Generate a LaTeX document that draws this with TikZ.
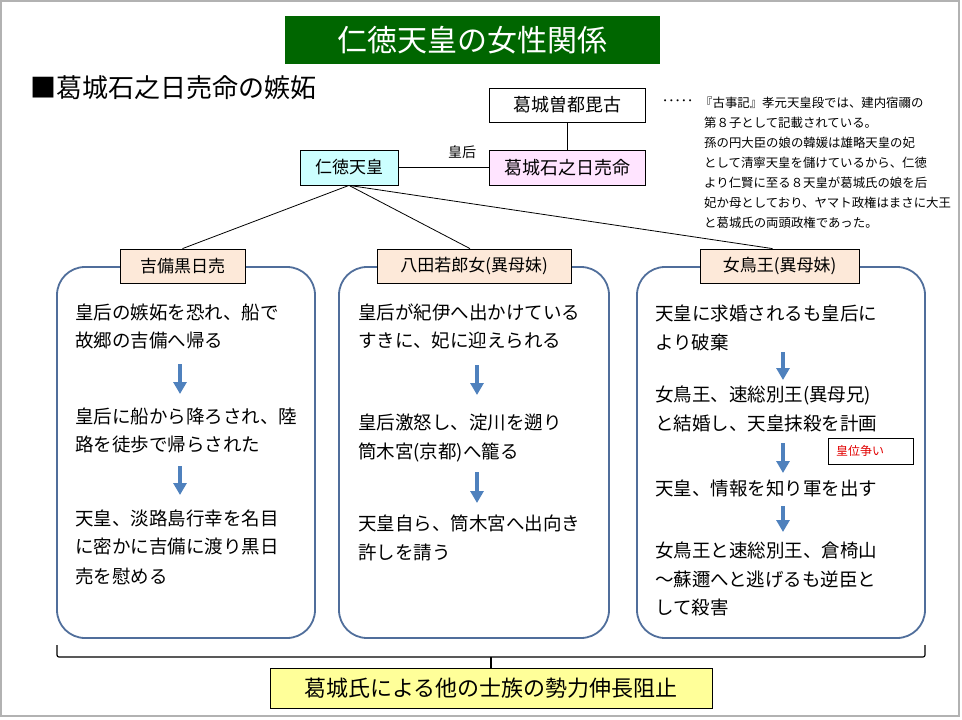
\documentclass[tikz,border=0pt]{standalone}
\usepackage{fontspec}
\setmainfont{Noto Sans CJK JP}
\usetikzlibrary{arrows.meta}
\definecolor{titlegreen}{RGB}{0,102,0}
\definecolor{nincyan}{RGB}{204,255,255}
\definecolor{iwapink}{RGB}{255,228,255}
\definecolor{labpeach}{RGB}{253,233,217}
\definecolor{goalyellow}{RGB}{255,255,153}
\definecolor{boxblue}{RGB}{80,110,155}
\definecolor{arrowblue}{RGB}{79,129,189}
\definecolor{warnred}{RGB}{225,0,0}
\tikzset{
  famebox/.style={draw=black, line width=0.8pt, fill=white, inner sep=0pt, font=\fontsize{18}{20}\selectfont},
  labbox/.style={draw=black, line width=0.8pt, fill=labpeach, inner sep=0pt, minimum height=34pt, font=\fontsize{17}{20}\selectfont},
  rbox/.style={draw=boxblue, line width=1.8pt, rounded corners=28pt, inner sep=0pt},
  bodytext/.style={anchor=west, inner sep=0pt, font=\fontsize{18.5}{22}\selectfont},
  notetext/.style={anchor=west, inner sep=0pt, font=\fontsize{12.4}{14}\selectfont},
  barrow/.style={draw=arrowblue, line width=3.6pt, -{Triangle[length=12pt,width=13pt]}},
  linkline/.style={draw=black, line width=0.8pt}
}
\begin{document}
\begin{tikzpicture}[x=1pt,y=-1pt]
\useasboundingbox (0,0) rectangle (962,720);
\draw[gray!60, line width=1.5pt] (1,1) rectangle (959,716);

% title and heading
\node[fill=titlegreen, minimum width=375pt, minimum height=48pt, inner sep=0pt, text=white, font=\fontsize{30}{32}\selectfont] (title) at (472.5,40) {仁徳天皇の女性関係};
\node[anchor=west, inner sep=0pt, font=\fontsize{26}{28}\selectfont] (head) at (30,88) {■葛城石之日売命の嫉妬};

% family boxes
\node[famebox, minimum width=156pt, minimum height=34pt] (sotsu) at (567,105) {葛城曽都毘古};
\node[famebox, fill=nincyan, minimum width=98pt, minimum height=35pt, font=\fontsize{17}{20}\selectfont] (nin) at (349,167.5) {仁徳天皇};
\node[famebox, fill=iwapink, minimum width=156pt, minimum height=35pt] (iwa) at (567,167.5) {葛城石之日売命};
\node[inner sep=0pt, font=\fontsize{14}{16}\selectfont] (kogo) at (462,152) {皇后};
\draw[linkline] (nin) -- (iwa);
\draw[linkline] (sotsu) -- (iwa);

% note
\node[notetext] (dots) at (662,103) {･････};
\node[notetext] (n1) at (700,103) {『古事記』孝元天皇段では、建内宿禰の};
\node[notetext] (n2) at (704,123) {第８子として記載されている。};
\node[notetext] (n3) at (704,143) {孫の円大臣の娘の韓媛は雄略天皇の妃};
\node[notetext] (n4) at (704,163) {として清寧天皇を儲けているから、仁徳};
\node[notetext] (n5) at (704,183) {より仁賢に至る８天皇が葛城氏の娘を后};
\node[notetext] (n6) at (704,203) {妃か母としており、ヤマト政権はまさに大王};
\node[notetext] (n7) at (704,223) {と葛城氏の両頭政権であった。};

% rounded boxes
\node[rbox, minimum width=258pt, minimum height=371pt] (b1) at (186,452.5) {};
\node[rbox, minimum width=270pt, minimum height=371pt] (b2) at (474,452.5) {};
\node[rbox, minimum width=288pt, minimum height=371pt] (b3) at (781,452.5) {};

% labels
\node[labbox, minimum width=125pt] (l1) at (182.5,266) {吉備黒日売};
\node[labbox, minimum width=194pt] (l2) at (474,266) {八田若郎女(異母妹)};
\node[labbox, minimum width=159pt] (l3) at (779.5,266) {女鳥王(異母妹)};
\draw[linkline] (nin.south) -- (l1.north);
\draw[linkline] (nin.south) -- ([xshift=-4pt]l2.north);
\draw[linkline] (nin.south) -- ([xshift=-7pt]l3.north);

% box 1 text
\node[bodytext] (a1) at (75,312) {皇后の嫉妬を恐れ、船で};
\node[bodytext] (a2) at (75,341) {故郷の吉備へ帰る};
\node[bodytext] (a3) at (75,416) {皇后に船から降ろされ、陸};
\node[bodytext] (a4) at (75,445) {路を徒歩で帰らされた};
\node[bodytext] (a5) at (75,518) {天皇、淡路島行幸を名目};
\node[bodytext] (a6) at (75,547) {に密かに吉備に渡り黒日};
\node[bodytext] (a7) at (75,576) {売を慰める};
\coordinate (p1s) at (180,364); \coordinate (p1e) at (180,394);
\coordinate (p2s) at (180,466); \coordinate (p2e) at (180,495);
\draw[barrow] (p1s) -- (p1e);
\draw[barrow] (p2s) -- (p2e);

% box 2 text
\node[bodytext] (c1) at (358,312) {皇后が紀伊へ出かけている};
\node[bodytext] (c2) at (358,340) {すきに、妃に迎えられる};
\node[bodytext] (c3) at (358,423) {皇后激怒し、淀川を遡り};
\node[bodytext] (c4) at (358,452) {筒木宮(京都)へ籠る};
\node[bodytext] (c5) at (358,523) {天皇自ら、筒木宮へ出向き};
\node[bodytext] (c6) at (358,552) {許しを請う};
\coordinate (q1s) at (477,365); \coordinate (q1e) at (477,395);
\coordinate (q2s) at (477,472); \coordinate (q2e) at (477,503);
\draw[barrow] (q1s) -- (q1e);
\draw[barrow] (q2s) -- (q2e);

% box 3 text
\node[bodytext] (d1) at (655,313) {天皇に求婚されるも皇后に};
\node[bodytext] (d2) at (655,342) {より破棄};
\node[bodytext] (d3) at (655,395) {女鳥王、速総別王(異母兄)};
\node[bodytext] (d4) at (655,423) {と結婚し、天皇抹殺を計画};
\node[bodytext] (d5) at (655,488) {天皇、情報を知り軍を出す};
\node[bodytext] (d6) at (655,550) {女鳥王と速総別王、倉椅山};
\node[bodytext] (d7) at (655,579) {～蘇邇へと逃げるも逆臣と};
\node[bodytext] (d8) at (655,607) {して殺害};
\coordinate (r1s) at (783,352); \coordinate (r1e) at (783,380);
\coordinate (r2s) at (783,443); \coordinate (r2e) at (783,473);
\coordinate (r3s) at (783,506); \coordinate (r3e) at (783,532);
\draw[barrow] (r1s) -- (r1e);
\draw[barrow] (r2s) -- (r2e);
\draw[barrow] (r3s) -- (r3e);
\node[draw=black, line width=0.8pt, minimum width=85pt, minimum height=26pt, inner xsep=8pt, inner ysep=0pt, text width=69pt, align=left, text=warnred, font=\fontsize{12}{14}\selectfont] (war) at (870.5,451) {皇位争い};

% brace and conclusion
\node[draw=black, line width=0.8pt, fill=goalyellow, minimum width=442pt, minimum height=40pt, inner sep=0pt, font=\fontsize{22}{24}\selectfont] (goal) at (491,688) {葛城氏による他の士族の勢力伸長阻止};
\coordinate (brl) at (57,645);
\coordinate (brr) at (925,645);
\coordinate (brm) at (491,657);
\draw[line width=1.2pt, rounded corners=2pt] (brl) -- (57,657) -- (925,657) -- (brr);
\draw[line width=1.2pt] (brm) -- (goal.north);
\end{tikzpicture}
\end{document}
